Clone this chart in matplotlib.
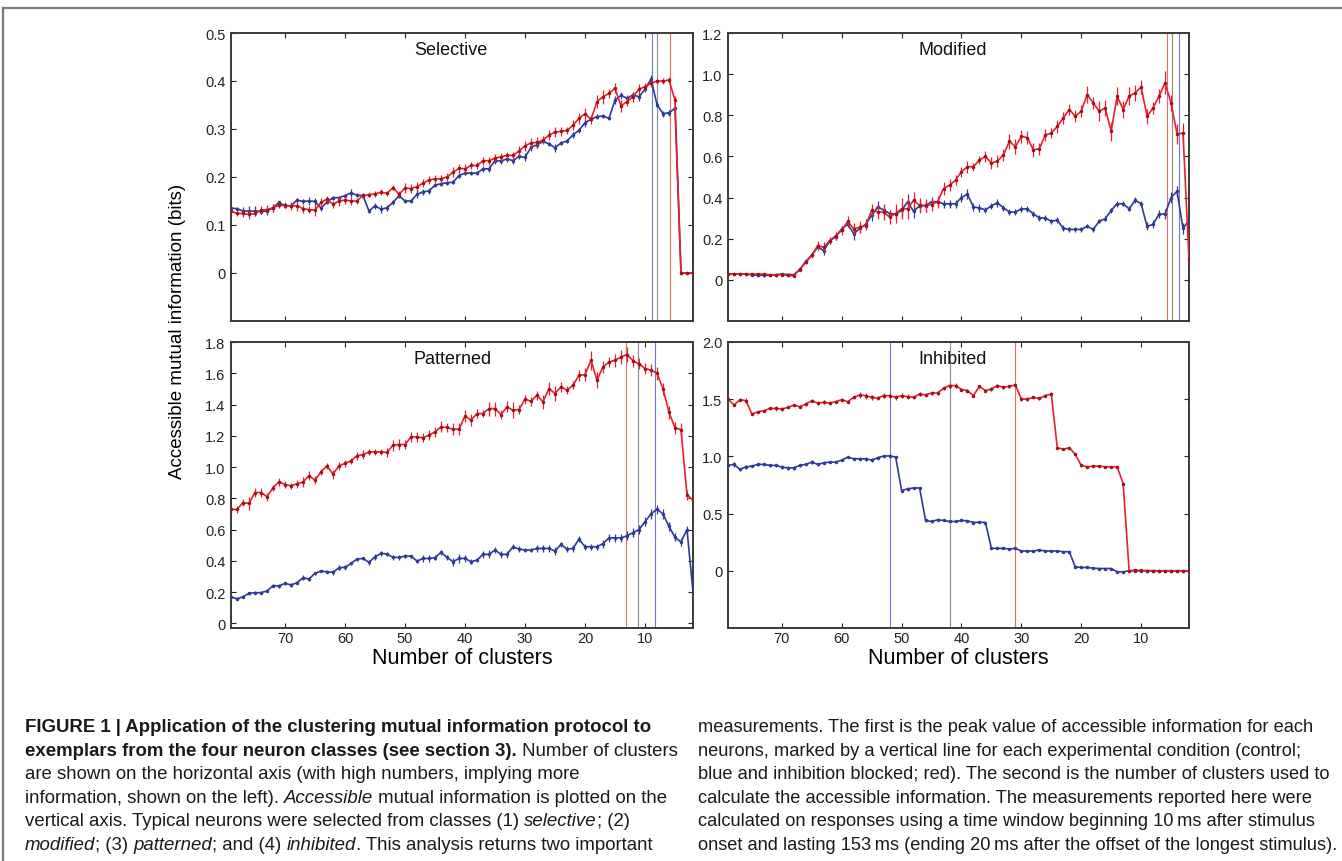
import numpy as np
import matplotlib
matplotlib.use("Agg")
import matplotlib.pyplot as plt
from matplotlib.lines import Line2D
from matplotlib.font_manager import FontProperties

plt.rcParams['font.family'] = ['Liberation Sans', 'DejaVu Sans']

# numero de clusters (eje x, de 79 a 2)
clusters = np.arange(79, 1, -1)

# Selective (bits)
sel_red = [.129, .124, .124, .122, .124, .131, .132, .136, .141, .141,
           .140, .140, .134, .132, .131, .147, .154, .143, .150, .152,
           .150, .150, .162, .163, .165, .168, .166, .178, .164, .177,
           .176, .180, .187, .194, .196, .196, .200, .210, .218, .217,
           .224, .224, .234, .234, .239, .242, .245, .245, .254, .265,
           .271, .272, .277, .287, .294, .295, .297, .308, .322, .332,
           .320, .357, .367, .374, .385, .348, .357, .367, .383, .388,
           .395, .400, .400, .402, .360, 0, 0, 0]
sel_red_err = [5, 6, 8, 9, 6, 8, 10, 8, 6, 6,
               8, 10, 8, 8, 12, 10, 6, 8, 10, 8,
               8, 6, 5, 5, 6, 6, 5, 6, 6, 10,
               10, 10, 8, 8, 8, 8, 8, 10, 10, 10,
               8, 8, 8, 8, 8, 8, 8, 8, 10, 10,
               10, 12, 8, 10, 10, 10, 8, 10, 12, 12,
               10, 14, 14, 10, 10, 12, 10, 10, 10, 8,
               8, 6, 6, 6, 8, 1, 1, 1]
sel_blue = [.135, .134, .129, .129, .129, .128, .129, .136, .147, .140,
            .140, .152, .149, .150, .149, .135, .148, .157, .157, .161,
            .167, .162, .161, .129, .140, .133, .136, .147, .161, .150,
            .150, .164, .169, .171, .183, .186, .188, .189, .203, .208,
            .208, .208, .217, .217, .234, .233, .238, .234, .243, .241,
            .262, .267, .274, .269, .261, .271, .275, .288, .297, .313,
            .320, .326, .327, .322, .360, .370, .364, .371, .367, .383,
            .404, .351, .332, .334, .343, 0, 0, 0]
sel_blue_err = [3, 3, 8, 10, 10, 5, 8, 8, 4, 4,
                4, 5, 6, 8, 8, 6, 4, 4, 4, 4,
                8, 4, 4, 4, 6, 8, 6, 6, 4, 4,
                4, 8, 6, 6, 4, 4, 4, 4, 6, 4,
                4, 4, 6, 6, 6, 6, 6, 6, 6, 8,
                8, 6, 4, 4, 8, 4, 4, 6, 6, 8,
                6, 6, 4, 4, 8, 8, 6, 6, 8, 6,
                8, 6, 6, 6, 6, 1, 1, 1]

# Modified
mod_red = [.028, .028, .028, .028, .028, .028, .028, .025, .025, .025,
           .022, .020, .052, .085, .120, .167, .158, .191, .215, .240,
           .284, .248, .256, .264, .338, .330, .330, .305, .322, .346,
           .346, .387, .362, .362, .366, .379, .444, .460, .485, .526,
           .550, .550, .583, .600, .567, .578, .607, .673, .648, .697,
           .692, .632, .637, .705, .713, .746, .787, .828, .795, .820,
           .901, .860, .820, .836, .722, .893, .828, .893, .909, .937,
           .795, .836, .893, .958, .860, .710, .713, .100]
mod_red_err = [3, 3, 3, 3, 3, 3, 3, 3, 3, 3,
               5, 5, 8, 10, 12, 20, 25, 15, 20, 20,
               25, 30, 30, 20, 30, 35, 40, 35, 45, 50,
               50, 40, 35, 30, 30, 30, 30, 30, 25, 25,
               30, 20, 20, 25, 30, 30, 30, 35, 35, 30,
               30, 35, 30, 30, 25, 30, 30, 25, 30, 30,
               40, 30, 50, 40, 45, 45, 40, 45, 40, 35,
               35, 30, 35, 55, 40, 50, 50, 10]
mod_blue = [.028, .028, .028, .028, .025, .022, .022, .022, .025, .028,
            .026, .025, .050, .090, .120, .160, .142, .190, .210, .248,
            .270, .224, .250, .270, .313, .354, .340, .322, .320, .338,
            .379, .333, .360, .360, .380, .380, .370, .370, .370, .400,
            .416, .354, .350, .340, .360, .375, .350, .330, .330, .345,
            .345, .320, .302, .300, .285, .290, .251, .245, .245, .245,
            .260, .245, .285, .297, .338, .370, .370, .345, .387, .370,
            .260, .270, .320, .320, .400, .430, .250, .290]
mod_blue_err = [3, 3, 3, 5, 8, 8, 8, 5, 3, 3,
                3, 3, 5, 8, 10, 15, 20, 15, 15, 15,
                15, 30, 20, 25, 25, 30, 25, 20, 25, 30,
                40, 30, 30, 30, 25, 20, 20, 20, 20, 20,
                25, 20, 20, 15, 15, 20, 15, 15, 15, 15,
                15, 15, 15, 15, 12, 15, 15, 12, 10, 10,
                10, 10, 10, 12, 12, 15, 12, 12, 15, 15,
                20, 20, 20, 25, 25, 25, 25, 25]

# Patterned
pat_red = [.729, .729, .773, .767, .837, .837, .810, .867, .905, .888,
           .880, .893, .905, .944, .916, .970, 1.006, .954, 1.008, 1.023,
           1.040, 1.072, 1.080, 1.097, 1.097, 1.097, 1.093, 1.140, 1.144, 1.144,
           1.193, 1.193, 1.187, 1.204, 1.225, 1.257, 1.253, 1.242, 1.242, 1.327,
           1.300, 1.342, 1.342, 1.374, 1.374, 1.336, 1.385, 1.363, 1.368, 1.434,
           1.421, 1.459, 1.417, 1.502, 1.470, 1.513, 1.491, 1.523, 1.587, 1.591,
           1.683, 1.555, 1.640, 1.672, 1.683, 1.704, 1.720, 1.680, 1.660, 1.630,
           1.620, 1.600, 1.500, 1.350, 1.250, 1.240, .820, .790]
pat_red_err = [15, 20, 25, 40, 30, 30, 25, 20, 25, 25,
               20, 25, 30, 30, 25, 20, 20, 30, 25, 20,
               20, 25, 30, 20, 20, 20, 30, 35, 35, 30,
               30, 30, 30, 30, 30, 35, 30, 40, 40, 40,
               40, 30, 25, 45, 45, 30, 35, 50, 30, 30,
               30, 30, 45, 40, 50, 30, 25, 25, 35, 40,
               60, 50, 40, 35, 40, 45, 45, 40, 35, 35,
               40, 40, 40, 40, 40, 40, 30, 20]
pat_blue = [.170, .156, .170, .192, .196, .196, .207, .241, .239, .256,
            .245, .260, .292, .283, .320, .334, .330, .326, .356, .358,
            .383, .411, .415, .390, .426, .447, .443, .422, .422, .430,
            .430, .398, .415, .415, .420, .454, .422, .394, .415, .415,
            .394, .405, .441, .441, .469, .441, .441, .490, .475, .469,
            .469, .479, .479, .479, .462, .505, .475, .479, .539, .490,
            .490, .490, .510, .547, .547, .547, .560, .580, .600, .650,
            .700, .730, .700, .620, .550, .520, .600, .200]
pat_blue_err = [10, 10, 10, 10, 8, 8, 8, 10, 10, 10,
                15, 10, 15, 15, 10, 8, 10, 15, 15, 15,
                10, 10, 10, 15, 20, 15, 15, 15, 15, 15,
                10, 15, 20, 20, 15, 15, 15, 25, 30, 25,
                15, 15, 20, 25, 20, 20, 20, 15, 20, 15,
                15, 25, 25, 25, 25, 15, 20, 20, 20, 20,
                20, 20, 25, 25, 25, 25, 30, 30, 30, 30,
                30, 30, 30, 30, 25, 25, 20, 10]

# Inhibited
inh_red = [1.501, 1.449, 1.496, 1.487, 1.370, 1.390, 1.399, 1.419, 1.419, 1.413,
           1.428, 1.449, 1.434, 1.457, 1.487, 1.466, 1.472, 1.466, 1.478, 1.496,
           1.478, 1.516, 1.537, 1.531, 1.516, 1.510, 1.531, 1.531, 1.516, 1.531,
           1.522, 1.516, 1.545, 1.537, 1.554, 1.554, 1.595, 1.619, 1.619, 1.584,
           1.575, 1.531, 1.613, 1.575, 1.589, 1.619, 1.604, 1.613, 1.625, 1.501,
           1.501, 1.516, 1.507, 1.531, 1.545, 1.076, 1.062, 1.076, 1.018, .921,
           .909, .915, .915, .909, .909, .909, .762, 0, .006, .003,
           .002, .001, 0, 0, 0, 0, 0, 0]
inh_red_err = [15, 12, 15, 20, 10, 10, 10, 15, 18, 18,
               12, 12, 12, 15, 15, 18, 18, 18, 12, 12,
               15, 15, 25, 25, 20, 20, 20, 20, 20, 20,
               20, 15, 15, 15, 18, 15, 15, 20, 20, 15,
               15, 10, 15, 15, 15, 15, 15, 15, 15, 15,
               15, 15, 15, 15, 20, 10, 10, 10, 10, 10,
               10, 10, 10, 10, 10, 10, 10, 5, 5, 5,
               5, 5, 5, 5, 5, 5, 5, 5]
inh_blue = [.921, .930, .886, .909, .915, .930, .930, .921, .921, .906,
            .900, .900, .921, .930, .950, .930, .944, .950, .950, .968,
            .994, .979, .979, .979, .968, .988, 1.003, 1.005, .994, .701,
            .716, .724, .724, .440, .431, .446, .440, .431, .431, .440,
            .437, .422, .425, .422, .196, .196, .196, .191, .196, .173,
            .173, .173, .182, .173, .173, .173, .167, .167, .035, .029,
            .029, .023, .020, .020, .020, -.009, -.009, 0, 0, 0,
            0, 0, 0, 0, 0, 0, 0, 0]
inh_blue_err = [15, 20, 10, 15, 12, 12, 12, 15, 15, 15,
                15, 15, 12, 12, 15, 12, 12, 12, 12, 12,
                12, 12, 12, 15, 15, 12, 12, 12, 12, 10,
                15, 12, 12, 12, 12, 12, 8, 8, 8, 8,
                10, 10, 10, 8, 8, 8, 8, 8, 8, 8,
                8, 8, 8, 8, 8, 8, 8, 8, 8, 8,
                8, 5, 5, 5, 5, 5, 5, 5, 5, 5,
                5, 5, 5, 5, 5, 5, 5, 5]

# lineas verticales (pico control, promedio, pico bloqueado)
sel_vlines = [8.9, 7.95, 5.8]
mod_vlines = [3.7, 4.8, 5.7]
pat_vlines = [8.3, 11.1, 13.1]
inh_vlines = [52.0, 42.0, 31.0]

xticks = [70, 60, 50, 40, 30, 20, 10]
xtick_labels = ['70', '60', '50', '40', '30', '20', '10']
sel_yticks = [0, 0.1, 0.2, 0.3, 0.4, 0.5]
sel_ylabels = ['0', '0.1', '0.2', '0.3', '0.4', '0.5']
mod_yticks = [0, 0.2, 0.4, 0.6, 0.8, 1.0, 1.2]
mod_ylabels = ['0', '0.2', '0.4', '0.6', '0.8', '1.0', '1.2']
pat_yticks = [0, 0.2, 0.4, 0.6, 0.8, 1.0, 1.2, 1.4, 1.6, 1.8]
pat_ylabels = ['0', '0.2', '0.4', '0.6', '0.8', '1.0', '1.2', '1.4', '1.6', '1.8']
inh_yticks = [0, 0.5, 1.0, 1.5, 2.0]
inh_ylabels = ['0', '0.5', '1.0', '1.5', '2.0']

RED = '#e8202a'
BLUE = '#2e3a96'
VCOLORS = ['#6c79d2', '#8c8c8c', '#f06a6a']

W, H = 1342, 862
fig = plt.figure(figsize=(W / 100, H / 100), dpi=100)


def box(x0, y0, x1, y1):
    return [x0 / W, 1 - y1 / H, (x1 - x0) / W, (y1 - y0) / H]


def panel(ax, red, red_err, blue, blue_err, vlines, ylim, yticks, ylabels,
          title, tx, show_x):
    for xv, c in zip(vlines, VCOLORS):
        ax.axvline(xv, color=c, lw=0.8, zorder=1)
    ax.errorbar(clusters, blue, yerr=np.array(blue_err) / 1000, color=BLUE,
                lw=1.2, elinewidth=0.9, marker='.', ms=3, capsize=0, zorder=3)
    ax.errorbar(clusters, red, yerr=np.array(red_err) / 1000, color=RED,
                lw=1.2, elinewidth=0.9, marker='.', ms=3, mfc='#a01018',
                mec='#a01018', capsize=0, zorder=4)
    ax.set_xlim(79, 2)
    ax.set_ylim(*ylim)
    ax.set_xticks(xticks, xtick_labels if show_x else [])
    ax.set_yticks(yticks, ylabels)
    ax.tick_params(direction='in', top=True, right=True, length=3.5,
                   width=0.8, labelsize=10.5, pad=4, colors='#222222')
    ax.tick_params(axis='x', pad=2.5)
    for s in ax.spines.values():
        s.set_color('#3a3a3a')
        s.set_linewidth(1.4)
    ax.text(tx, 0.943, title, transform=ax.transAxes, ha='center',
            va='center', fontsize=13, color='#111111')


ax1 = fig.add_axes(box(231, 34, 693, 322))
ax2 = fig.add_axes(box(728, 34, 1189, 322))
ax3 = fig.add_axes(box(231, 343, 693, 629))
ax4 = fig.add_axes(box(728, 343, 1189, 629))

panel(ax1, sel_red, sel_red_err, sel_blue, sel_blue_err, sel_vlines,
      (-0.1, 0.5), sel_yticks, sel_ylabels, 'Selective', 0.476, False)
panel(ax2, mod_red, mod_red_err, mod_blue, mod_blue_err, mod_vlines,
      (-0.2, 1.2), mod_yticks, mod_ylabels, 'Modified', 0.488, False)
panel(ax3, pat_red, pat_red_err, pat_blue, pat_blue_err, pat_vlines,
      (-0.03, 1.8), pat_yticks, pat_ylabels, 'Patterned', 0.48, True)
panel(ax4, inh_red, inh_red_err, inh_blue, inh_blue_err, inh_vlines,
      (-0.5, 2.0), inh_yticks, inh_ylabels, 'Inhibited', 0.487, True)

fig.text(462 / W, 1 - 648 / H, 'Number of clusters', ha='center',
         va='top', fontsize=15.5)
fig.text(958.5 / W, 1 - 648 / H, 'Number of clusters', ha='center',
         va='top', fontsize=15.5)
fig.text(178 / W, 1 - 331 / H, 'Accessible mutual information (bits)',
         rotation=90, ha='center', va='center', fontsize=13.5)

# marco de la figura
fig.add_artist(Line2D([3 / W, 1], [1 - 9 / H, 1 - 9 / H], color='#7a7a7a',
                      lw=1.6, transform=fig.transFigure))
fig.add_artist(Line2D([3 / W, 3 / W], [0, 1 - 9 / H], color='#7a7a7a',
                      lw=1.6, transform=fig.transFigure))

# leyenda (texto con estilos mezclados)
left_lines = [
    [('FIGURE 1 | Application of the clustering mutual information protocol to', 'b')],
    [('exemplars from the four neuron classes (see section 3).', 'b'),
     (' Number of clusters', 'r')],
    [('are shown on the horizontal axis (with high numbers, implying more', 'r')],
    [('information, shown on the left). ', 'r'), ('Accessible', 'i'),
     (' mutual information is plotted on the', 'r')],
    [('vertical axis. Typical neurons were selected from classes (1) ', 'r'),
     ('selective', 'i'), ('; (2)', 'r')],
    [('modified', 'i'), ('; (3) ', 'r'), ('patterned', 'i'), ('; and (4) ', 'r'),
     ('inhibited', 'i'), ('. This analysis returns two important', 'r')],
]
right_lines = [
    [('measurements. The first is the peak value of accessible information for each', 'r')],
    [('neurons, marked by a vertical line for each experimental condition (control;', 'r')],
    [('blue and inhibition blocked; red). The second is the number of clusters used to', 'r')],
    [('calculate the accessible information. The measurements reported here were', 'r')],
    [('calculated on responses using a time window beginning 10\u2009ms after stimulus', 'r')],
    [('onset and lasting 153\u2009ms (ending 20\u2009ms after the offset of the longest stimulus).', 'r')],
]

renderer = fig.canvas.get_renderer()


def fprop(style, size):
    return FontProperties(family=['Liberation Sans', 'DejaVu Sans'], size=size,
                          weight='bold' if style == 'b' else 'normal',
                          style='italic' if style == 'i' else 'normal')


def seg_width(txt, style, size):
    p = fprop(style, size)
    w1 = renderer.get_text_width_height_descent('x' + txt + 'x', p, ismath=False)[0]
    w0 = renderer.get_text_width_height_descent('xx', p, ismath=False)[0]
    return w1 - w0


def line_width(parts, size):
    return sum(seg_width(t, s, size) for t, s in parts)


def draw_line(x, y, parts, size):
    for t, s in parts:
        fig.text(x / W, 1 - y / H, t, fontproperties=fprop(s, size),
                 ha='left', va='baseline', color='#1a1a1a')
        x += seg_width(t, s, size)


size_left = 10 * 629 / line_width(left_lines[0], 10)
size_right = 10 * 643 / line_width(right_lines[5], 10)

for i, parts in enumerate(left_lines):
    draw_line(25, 732 + 23.6 * i, parts, size_left)
for i, parts in enumerate(right_lines):
    draw_line(698, 732 + 23.6 * i, parts, size_right)

fig.savefig('out.png', dpi=100)
